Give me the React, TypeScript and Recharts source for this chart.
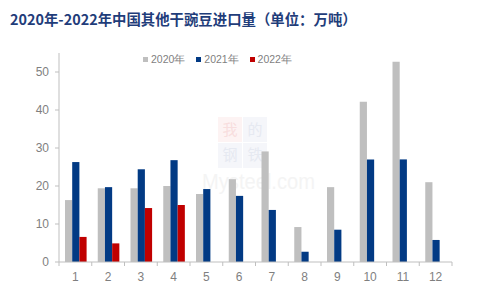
import React from 'react';
import { BarChart, Bar, XAxis, YAxis, Legend } from 'recharts';

const months = ['1', '2', '3', '4', '5', '6', '7', '8', '9', '10', '11', '12'];
const v2020 = [16.3, 19.4, 19.4, 20.0, 17.9, 21.8, 29.1, 9.2, 19.7, 42.2, 52.7, 21.0];
const v2021 = [26.3, 19.7, 24.4, 26.8, 19.2, 17.4, 13.7, 2.7, 8.5, 27.0, 27.0, 5.8];
const v2022: (number | null)[] = [6.6, 4.9, 14.2, 15.0, null, null, null, null, null, null, null, null];
const yTicks = [0, 10, 20, 30, 40, 50];
const seriesNames = ['2020年', '2021年', '2022年'];
const seriesColors = ['#bfbfbf', '#023a84', '#c00000'];
const title = '2020年-2022年中国其他干豌豆进口量（单位：万吨）';

const data = months.map((m, i) => ({ month: m, a: v2020[i], b: v2021[i], c: v2022[i] }));

const FONT = '"Liberation Sans", Arial, sans-serif';
const AXIS = '#bfbfbf';
const TEXT = '#7f7f7f';

const XTick = (props: any) => {
  const { x, y, payload, index, width } = props;
  const bw = width / months.length;
  const axisY = y - 10;
  return (
    <g>
      <line x1={x - bw / 2} x2={x - bw / 2} y1={axisY} y2={axisY + 4} stroke={AXIS} />
      {index === months.length - 1 && (
        <line x1={x + bw / 2} x2={x + bw / 2} y1={axisY} y2={axisY + 4} stroke={AXIS} />
      )}
      <text x={x} y={y} dy="0.71em" textAnchor="middle" fill={TEXT} fontSize={12} fontFamily={FONT}>
        {payload.value}
      </text>
    </g>
  );
};

const LegendContent = () => (
  <div style={{ display: 'flex', paddingLeft: 143, fontFamily: FONT, fontSize: 10.5, color: TEXT, lineHeight: '14px' }}>
    {seriesNames.map((n, i) => (
      <div key={n} style={{ width: 53.3, display: 'flex', alignItems: 'center' }}>
        <span style={{ display: 'inline-block', width: 5, height: 5, background: seriesColors[i], marginRight: 3 }} />
        <span>{n}</span>
      </div>
    ))}
  </div>
);

const Watermark = () => (
  <svg width={480} height={288} style={{ position: 'absolute', left: 0, top: 0 }}>
    <rect x={218} y={117} width={24} height={25} fill="#fdf3f3" />
    <rect x={243} y={117} width={24} height={25} fill="#f5f6fa" />
    <rect x={218} y={143} width={24} height={25} fill="#f5f6fa" />
    <rect x={243} y={143} width={24} height={25} fill="#f5f6fa" />
    <text x={230} y={135} textAnchor="middle" fontSize={15} fill="#f8dede" fontFamily='"Noto Sans CJK SC"'>我</text>
    <text x={255} y={135} textAnchor="middle" fontSize={15} fill="#e6e9f1" fontFamily='"Noto Sans CJK SC"'>的</text>
    <text x={230} y={160} textAnchor="middle" fontSize={15} fill="#e6e9f1" fontFamily='"Noto Sans CJK SC"'>钢</text>
    <text x={255} y={160} textAnchor="middle" fontSize={15} fill="#e6e9f1" fontFamily='"Noto Sans CJK SC"'>铁</text>
    <text x={202} y={189} fontSize={22} fill="#f4f4f4" fontFamily={FONT} textLength={113} lengthAdjust="spacingAndGlyphs">Mysteel.com</text>
  </svg>
);

export default function App() {
  return (
    <div style={{ position: 'absolute', left: 0, top: 0, width: 480, height: 288, background: '#ffffff', overflow: 'hidden' }}>
      <Watermark />
      <div
        style={{
          position: 'absolute', left: 10, top: 9, fontFamily: '"Noto Sans CJK SC", sans-serif', fontWeight: 700,
          fontSize: 14.4, lineHeight: '20px', color: '#1f3d7a', whiteSpace: 'nowrap',
        }}
      >
        {title}
      </div>
      <div style={{ position: 'absolute', left: 0, top: 0 }}>
        <BarChart width={480} height={288} data={data} margin={{ top: 53, right: 28, bottom: 0, left: 0 }} barGap={0} barSize={7.2}>
          <XAxis
            dataKey="month"
            axisLine={{ stroke: AXIS }}
            tickLine={false}
            tickSize={4}
            tickMargin={6}
            tick={<XTick />}
            interval={0}
            height={26}
          />
          <YAxis
            domain={[0, 55]}
            ticks={yTicks}
            width={59}
            axisLine={{ stroke: AXIS }}
            tickLine={{ stroke: AXIS }}
            tickSize={4}
            tickMargin={6}
            tick={{ fill: TEXT, fontSize: 12, fontFamily: FONT }}
            allowDataOverflow
          />
          <Legend
            layout="horizontal"
            verticalAlign="middle"
            align="center"
            wrapperStyle={{ top: 52, left: 0, width: 480 }}
            content={<LegendContent />}
          />
          <Bar dataKey="a" name={seriesNames[0]} fill={seriesColors[0]} isAnimationActive={false} />
          <Bar dataKey="b" name={seriesNames[1]} fill={seriesColors[1]} isAnimationActive={false} />
          <Bar dataKey="c" name={seriesNames[2]} fill={seriesColors[2]} isAnimationActive={false} />
        </BarChart>
      </div>
    </div>
  );
}
